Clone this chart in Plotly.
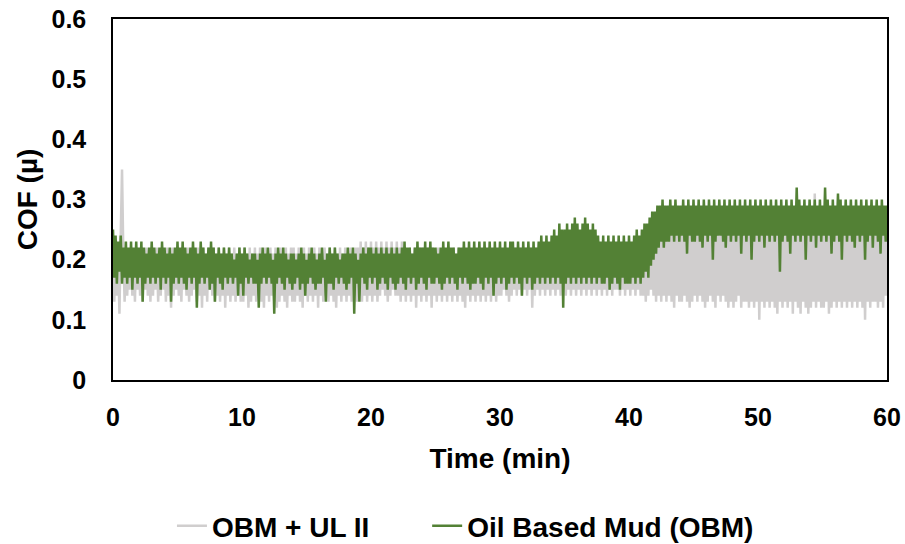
import plotly.graph_objects as go

step_min = 0.1  # one reading every 0.1 min

# OBM + UL II (gray): one row per minute, 10 readings per row
obm_ul_rows = [
    [0.21,0.13,0.22,0.14,0.20,0.11,0.24,0.35,0.21,0.13],
    [0.22,0.14,0.21,0.15,0.22,0.14,0.21,0.13,0.22,0.15],
    [0.21,0.14,0.22,0.13,0.21,0.15,0.22,0.14,0.21,0.13],
    [0.22,0.14,0.21,0.15,0.22,0.13,0.21,0.14,0.22,0.15],
    [0.21,0.13,0.22,0.14,0.21,0.12,0.22,0.14,0.21,0.15],
    [0.22,0.14,0.21,0.13,0.22,0.15,0.21,0.14,0.22,0.13],
    [0.21,0.14,0.22,0.15,0.21,0.13,0.22,0.14,0.21,0.12],
    [0.22,0.14,0.21,0.13,0.22,0.15,0.21,0.14,0.22,0.13],
    [0.21,0.14,0.22,0.13,0.21,0.14,0.22,0.12,0.21,0.14],
    [0.22,0.13,0.21,0.14,0.22,0.13,0.21,0.14,0.22,0.13],
    [0.21,0.13,0.22,0.14,0.21,0.12,0.22,0.13,0.21,0.14],
    [0.22,0.13,0.21,0.14,0.22,0.13,0.21,0.12,0.22,0.14],
    [0.21,0.13,0.22,0.14,0.21,0.13,0.22,0.12,0.21,0.13],
    [0.22,0.14,0.21,0.13,0.22,0.12,0.21,0.14,0.22,0.13],
    [0.22,0.13,0.21,0.14,0.22,0.13,0.21,0.12,0.22,0.14],
    [0.21,0.13,0.22,0.14,0.21,0.13,0.22,0.14,0.21,0.12],
    [0.22,0.14,0.21,0.13,0.22,0.14,0.21,0.13,0.22,0.14],
    [0.21,0.13,0.22,0.12,0.21,0.14,0.22,0.13,0.21,0.14],
    [0.22,0.13,0.21,0.14,0.22,0.13,0.21,0.14,0.22,0.13],
    [0.22,0.14,0.23,0.13,0.22,0.14,0.23,0.13,0.22,0.14],
    [0.23,0.13,0.22,0.14,0.23,0.13,0.22,0.14,0.23,0.15],
    [0.22,0.14,0.23,0.13,0.22,0.14,0.23,0.15,0.22,0.14],
    [0.23,0.14,0.22,0.13,0.23,0.14,0.22,0.13,0.21,0.14],
    [0.22,0.13,0.21,0.14,0.22,0.12,0.21,0.14,0.22,0.13],
    [0.22,0.14,0.21,0.13,0.22,0.14,0.21,0.12,0.22,0.14],
    [0.21,0.13,0.22,0.14,0.21,0.13,0.22,0.14,0.21,0.13],
    [0.22,0.14,0.21,0.13,0.22,0.14,0.21,0.13,0.22,0.14],
    [0.21,0.13,0.22,0.12,0.21,0.14,0.22,0.13,0.21,0.14],
    [0.22,0.13,0.21,0.14,0.22,0.13,0.21,0.14,0.22,0.13],
    [0.21,0.14,0.22,0.13,0.21,0.14,0.22,0.13,0.21,0.14],
    [0.22,0.14,0.21,0.15,0.22,0.14,0.21,0.13,0.22,0.14],
    [0.21,0.15,0.22,0.14,0.21,0.15,0.22,0.14,0.21,0.15],
    [0.22,0.14,0.21,0.15,0.22,0.12,0.21,0.14,0.22,0.15],
    [0.21,0.14,0.22,0.15,0.21,0.14,0.22,0.15,0.21,0.14],
    [0.22,0.15,0.21,0.14,0.22,0.15,0.21,0.14,0.22,0.15],
    [0.22,0.14,0.21,0.15,0.22,0.14,0.21,0.15,0.22,0.14],
    [0.21,0.15,0.22,0.14,0.21,0.15,0.22,0.14,0.21,0.15],
    [0.22,0.14,0.23,0.15,0.22,0.14,0.23,0.15,0.22,0.14],
    [0.23,0.15,0.22,0.14,0.23,0.15,0.22,0.14,0.23,0.15],
    [0.22,0.15,0.23,0.14,0.22,0.15,0.23,0.14,0.22,0.15],
    [0.23,0.14,0.22,0.15,0.23,0.14,0.22,0.15,0.23,0.14],
    [0.22,0.14,0.23,0.13,0.22,0.14,0.23,0.15,0.24,0.14],
    [0.23,0.13,0.24,0.14,0.23,0.13,0.24,0.14,0.25,0.13],
    [0.24,0.14,0.25,0.13,0.24,0.12,0.25,0.14,0.24,0.13],
    [0.25,0.13,0.24,0.14,0.25,0.13,0.24,0.12,0.25,0.13],
    [0.24,0.14,0.25,0.13,0.24,0.14,0.25,0.13,0.24,0.12],
    [0.25,0.13,0.24,0.14,0.25,0.13,0.24,0.12,0.25,0.14],
    [0.24,0.13,0.25,0.14,0.24,0.13,0.25,0.12,0.24,0.13],
    [0.25,0.12,0.24,0.13,0.25,0.14,0.24,0.12,0.25,0.13],
    [0.24,0.13,0.25,0.12,0.24,0.13,0.25,0.12,0.24,0.13],
    [0.25,0.10,0.24,0.13,0.25,0.12,0.24,0.13,0.25,0.12],
    [0.24,0.13,0.25,0.12,0.24,0.11,0.25,0.13,0.24,0.12],
    [0.25,0.13,0.24,0.12,0.25,0.13,0.24,0.11,0.25,0.13],
    [0.24,0.12,0.25,0.11,0.24,0.13,0.25,0.12,0.24,0.11],
    [0.25,0.12,0.24,0.13,0.31,0.12,0.24,0.13,0.25,0.12],
    [0.24,0.12,0.25,0.13,0.24,0.11,0.25,0.12,0.24,0.13],
    [0.25,0.12,0.24,0.13,0.25,0.12,0.24,0.13,0.25,0.12],
    [0.24,0.13,0.25,0.12,0.24,0.13,0.25,0.12,0.24,0.13],
    [0.25,0.12,0.24,0.10,0.25,0.13,0.24,0.12,0.25,0.13],
    [0.24,0.13,0.25,0.12,0.24,0.13,0.25,0.12,0.24,0.14],
]
obm_ul_last = 0.24

# Oil Based Mud (OBM) (green): one row per minute, 10 readings per row
obm_rows = [
    [0.25,0.17,0.24,0.16,0.23,0.18,0.24,0.16,0.22,0.17],
    [0.23,0.16,0.22,0.17,0.23,0.15,0.22,0.17,0.23,0.16],
    [0.22,0.17,0.23,0.13,0.22,0.16,0.21,0.17,0.22,0.16],
    [0.23,0.17,0.22,0.16,0.21,0.17,0.22,0.15,0.23,0.17],
    [0.22,0.16,0.21,0.17,0.22,0.13,0.21,0.16,0.22,0.17],
    [0.23,0.16,0.22,0.17,0.23,0.16,0.22,0.15,0.21,0.17],
    [0.22,0.16,0.23,0.17,0.22,0.12,0.21,0.16,0.23,0.17],
    [0.22,0.16,0.21,0.17,0.22,0.15,0.23,0.16,0.22,0.13],
    [0.21,0.17,0.22,0.16,0.21,0.15,0.22,0.17,0.21,0.16],
    [0.22,0.17,0.21,0.16,0.20,0.17,0.21,0.14,0.22,0.16],
    [0.21,0.14,0.22,0.17,0.21,0.16,0.20,0.17,0.21,0.16],
    [0.21,0.16,0.20,0.12,0.21,0.16,0.22,0.17,0.21,0.16],
    [0.22,0.17,0.21,0.16,0.20,0.11,0.21,0.16,0.22,0.17],
    [0.21,0.16,0.22,0.15,0.21,0.17,0.20,0.16,0.21,0.15],
    [0.21,0.16,0.20,0.17,0.21,0.15,0.22,0.16,0.21,0.14],
    [0.20,0.16,0.21,0.17,0.22,0.16,0.21,0.15,0.20,0.16],
    [0.21,0.16,0.22,0.17,0.20,0.13,0.21,0.16,0.22,0.16],
    [0.21,0.15,0.22,0.17,0.21,0.16,0.20,0.17,0.21,0.16],
    [0.21,0.15,0.22,0.16,0.21,0.17,0.22,0.11,0.21,0.16],
    [0.20,0.13,0.21,0.17,0.22,0.16,0.21,0.15,0.22,0.17],
    [0.22,0.16,0.21,0.17,0.22,0.15,0.21,0.16,0.22,0.17],
    [0.21,0.16,0.22,0.15,0.21,0.17,0.22,0.16,0.21,0.15],
    [0.22,0.16,0.21,0.17,0.22,0.16,0.23,0.15,0.22,0.17],
    [0.22,0.16,0.21,0.17,0.22,0.15,0.23,0.16,0.22,0.17],
    [0.22,0.16,0.23,0.15,0.22,0.17,0.23,0.16,0.22,0.16],
    [0.22,0.17,0.21,0.16,0.22,0.15,0.23,0.16,0.22,0.17],
    [0.23,0.16,0.22,0.17,0.22,0.16,0.21,0.15,0.22,0.17],
    [0.22,0.16,0.23,0.17,0.22,0.16,0.23,0.15,0.22,0.16],
    [0.23,0.16,0.22,0.17,0.23,0.16,0.22,0.15,0.23,0.17],
    [0.22,0.16,0.23,0.17,0.22,0.14,0.23,0.16,0.22,0.17],
    [0.23,0.16,0.22,0.17,0.23,0.15,0.22,0.16,0.23,0.17],
    [0.23,0.16,0.22,0.17,0.23,0.16,0.22,0.14,0.23,0.17],
    [0.22,0.16,0.23,0.17,0.22,0.15,0.23,0.16,0.22,0.17],
    [0.23,0.16,0.24,0.17,0.23,0.16,0.24,0.17,0.23,0.16],
    [0.24,0.17,0.25,0.16,0.24,0.17,0.26,0.16,0.25,0.12],
    [0.25,0.16,0.26,0.17,0.25,0.16,0.26,0.17,0.27,0.16],
    [0.26,0.17,0.25,0.16,0.26,0.17,0.27,0.16,0.26,0.17],
    [0.25,0.16,0.26,0.17,0.25,0.16,0.24,0.17,0.23,0.16],
    [0.24,0.16,0.23,0.17,0.24,0.15,0.23,0.16,0.24,0.17],
    [0.23,0.16,0.24,0.15,0.23,0.17,0.24,0.16,0.23,0.16],
    [0.24,0.16,0.23,0.17,0.24,0.16,0.25,0.17,0.24,0.16],
    [0.25,0.17,0.26,0.18,0.26,0.17,0.27,0.19,0.28,0.20],
    [0.28,0.21,0.29,0.22,0.29,0.23,0.30,0.22,0.29,0.23],
    [0.29,0.23,0.30,0.24,0.29,0.23,0.30,0.24,0.29,0.23],
    [0.29,0.24,0.30,0.23,0.29,0.21,0.30,0.24,0.29,0.23],
    [0.30,0.23,0.29,0.24,0.30,0.23,0.29,0.22,0.30,0.24],
    [0.29,0.23,0.30,0.24,0.29,0.20,0.30,0.23,0.29,0.24],
    [0.30,0.24,0.29,0.23,0.30,0.22,0.29,0.24,0.30,0.23],
    [0.29,0.24,0.30,0.23,0.29,0.24,0.30,0.21,0.29,0.24],
    [0.30,0.23,0.29,0.24,0.30,0.20,0.29,0.23,0.30,0.24],
    [0.29,0.23,0.30,0.24,0.29,0.22,0.30,0.24,0.29,0.23],
    [0.30,0.24,0.29,0.23,0.30,0.24,0.29,0.18,0.30,0.23],
    [0.29,0.24,0.30,0.23,0.29,0.21,0.30,0.24,0.29,0.23],
    [0.32,0.24,0.30,0.23,0.29,0.24,0.30,0.20,0.29,0.24],
    [0.30,0.23,0.29,0.24,0.30,0.22,0.29,0.24,0.30,0.23],
    [0.29,0.24,0.32,0.23,0.30,0.24,0.29,0.21,0.30,0.23],
    [0.29,0.24,0.31,0.23,0.30,0.20,0.29,0.24,0.30,0.23],
    [0.29,0.24,0.30,0.23,0.29,0.22,0.30,0.24,0.29,0.23],
    [0.30,0.24,0.29,0.20,0.30,0.23,0.29,0.24,0.30,0.22],
    [0.29,0.24,0.30,0.23,0.29,0.21,0.30,0.24,0.29,0.23],
]
obm_last = 0.29

cof_obm_ul = [v for row in obm_ul_rows for v in row] + [obm_ul_last]
cof_obm = [v for row in obm_rows for v in row] + [obm_last]
time_min = [round(i * step_min, 1) for i in range(len(cof_obm))]

x_ticks = [0, 10, 20, 30, 40, 50, 60]
y_ticks = [0, 0.1, 0.2, 0.3, 0.4, 0.5, 0.6]
y_tick_labels = ["0", "0.1", "0.2", "0.3", "0.4", "0.5", "0.6"]

FONT = "Liberation Sans, Arial, sans-serif"
GRAY = "#D0CECE"
GREEN = "#538135"

fig = go.Figure()
fig.add_trace(go.Scatter(
    x=time_min, y=cof_obm_ul, mode="lines", name="OBM + UL II",
    line=dict(color=GRAY, width=2.5), legend="legend",
))
fig.add_trace(go.Scatter(
    x=time_min, y=cof_obm, mode="lines", name="Oil Based Mud (OBM)",
    line=dict(color=GREEN, width=2.5), legend="legend2",
))

legend_font = dict(family=FONT, size=28, color="black", weight="bold")

fig.update_layout(
    width=905, height=544,
    margin=dict(l=113, r=18, t=19, b=164, autoexpand=False),
    paper_bgcolor="white", plot_bgcolor="white",
    font=dict(family=FONT, size=25, color="black", weight="bold"),
    showlegend=True,
    legend=dict(
        orientation="h", xref="container", yref="container",
        x=0.190, xanchor="left", y=0.033, yanchor="middle",
        font=legend_font, bgcolor="rgba(0,0,0,0)",
    ),
    legend2=dict(
        orientation="h", xref="container", yref="container",
        x=0.472, xanchor="left", y=0.033, yanchor="middle",
        font=legend_font, bgcolor="rgba(0,0,0,0)",
    ),
    xaxis=dict(
        range=[0, 60], tickvals=x_ticks, showgrid=False, zeroline=False,
        showline=True, linecolor="black", linewidth=1.5, mirror=True,
        ticks="outside", ticklen=14, tickcolor="rgba(0,0,0,0)",
        tickfont=dict(family=FONT, size=25, weight="bold"),
        automargin=False,
        title=dict(text="Time (min)", standoff=19,
                   font=dict(family=FONT, size=28, weight="bold")),
    ),
    yaxis=dict(
        range=[0, 0.6], tickvals=y_ticks, ticktext=y_tick_labels,
        showgrid=False, zeroline=False,
        showline=True, linecolor="black", linewidth=1.5, mirror=True,
        ticks="outside", ticklen=20, tickcolor="rgba(0,0,0,0)",
        tickfont=dict(family=FONT, size=25, weight="bold"),
        automargin=False,
        title=dict(text="COF (µ)", standoff=6,
                   font=dict(family=FONT, size=28, weight="bold")),
    ),
)

fig.write_html("out.html")
